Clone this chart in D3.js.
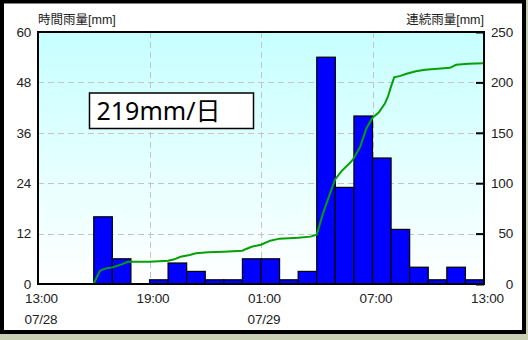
<!DOCTYPE html>
<html>
<head>
<meta charset="utf-8">
<script src="https://cdn.jsdelivr.net/npm/d3@7"></script>
<style>
  body { margin: 0; background: #c9cfb2; }
  svg { display: block; }
</style>
</head>
<body>
<svg width="528" height="340"></svg>
<script>
// hourly rain (bar start hour, mm)
const barHours = ["13:00","14:00","15:00","16:00","17:00","18:00","19:00","20:00","21:00","22:00","23:00","00:00",
                  "01:00","02:00","03:00","04:00","05:00","06:00","07:00","08:00","09:00","10:00","11:00","12:00"];
const barValues = [0,0,0,16,6,0,1,5,3,1,1,6,6,1,3,54,23,40,30,13,4,1,4,1];

// cumulative rain
const cumTimes = ["16:00","16:10","16:20","16:30","16:40","17:00","17:30","17:50","19:00","20:00","20:20","20:40",
                  "21:10","21:30","22:10","23:00","00:00","00:10","00:30","01:00","01:30","02:00","03:00","03:40",
                  "04:00","04:20","04:50","05:00","05:20","05:50","06:00","06:20","06:40","07:00","07:20","07:40",
                  "07:50","08:00","08:10","08:30","08:50","09:20","09:50","10:30","11:10","11:30","12:10","13:00"];
const cumValues = [0,7,13,14.5,15.5,16.5,19.5,22,22,23,24.5,27,
                   28.8,30.5,31.5,32,33,34.5,37,39,43,45,46,47,
                   49,70,96,104,112,121,125,136,154,165,170,179,
                   186,196,205,206.5,208.5,211,212.5,213.5,214.5,217.5,218.5,219];

const hourTicks = ["13:00","19:00","01:00","07:00","13:00"];
const dateTicks = ["07/28","","07/29","",""];
const leftTicks = [0,12,24,36,48,60];
const rightTicks = [0,50,100,150,200,250];
const leftTitle = "時間雨量[mm]";
const rightTitle = "連続雨量[mm]";
const dailyLabel = "219mm/日";

const svg = d3.select("svg");
const plot = {left: 38, right: 484, top: 32, bottom: 284};

// times roll over midnight, so bump the day when the clock goes backwards
function parseSeq(list) {
  let day = 28, prev = -1;
  return list.map(s => {
    const [h, m] = s.split(":").map(Number);
    const v = h * 60 + m;
    if (v < prev) day++;
    prev = v;
    return new Date(2024, 6, day, h, m);
  });
}

const barDates = parseSeq(barHours);
const cumDates = parseSeq(cumTimes);
const tickDates = parseSeq(hourTicks);

const x = d3.scaleTime()
  .domain([tickDates[0], tickDates[tickDates.length - 1]])
  .range([plot.left, plot.right]);
const yL = d3.scaleLinear().domain([0, 60]).range([plot.bottom, plot.top]);
const yR = d3.scaleLinear().domain([0, 250]).range([plot.bottom, plot.top]);

// outer frame
svg.append("rect")
  .attr("x", 2).attr("y", 1.5).attr("width", 522).attr("height", 330.5)
  .attr("fill", "#fff").attr("stroke", "#000").attr("stroke-width", 4);

// plot background gradient
const grad = svg.append("defs").append("linearGradient")
  .attr("id", "bg").attr("x1", 0).attr("y1", 0).attr("x2", 0).attr("y2", 1);
grad.append("stop").attr("offset", "0%").attr("stop-color", "#c6ffff");
grad.append("stop").attr("offset", "100%").attr("stop-color", "#ffffff");

svg.append("rect")
  .attr("x", plot.left).attr("y", plot.top)
  .attr("width", plot.right - plot.left).attr("height", plot.bottom - plot.top)
  .attr("fill", "url(#bg)");

// grid
const grid = svg.append("g").attr("stroke", "#c4c4c4").attr("stroke-dasharray", "6,4").attr("stroke-width", 1);
grid.selectAll(".hg")
  .data(leftTicks.slice(1, -1))
  .join("line")
  .attr("x1", plot.left).attr("x2", plot.right)
  .attr("y1", d => Math.round(yL(d)) + 0.5).attr("y2", d => Math.round(yL(d)) + 0.5);
grid.selectAll(".vg")
  .data(tickDates.slice(1, -1))
  .join("line")
  .attr("x1", d => Math.round(x(d)) + 0.5).attr("x2", d => Math.round(x(d)) + 0.5)
  .attr("y1", plot.top).attr("y2", plot.bottom);

// bars
svg.append("g").selectAll("rect")
  .data(barValues.map((v, i) => ({t: barDates[i], v: v})).filter(d => d.v > 0))
  .join("rect")
  .attr("x", d => x(d.t))
  .attr("width", d => x(d3.timeHour.offset(d.t, 1)) - x(d.t))
  .attr("y", d => yL(d.v))
  .attr("height", d => yL(0) - yL(d.v))
  .attr("fill", "#0000ff")
  .attr("stroke", "#000")
  .attr("stroke-width", 1.2);

// cumulative line
const line = d3.line()
  .x((d, i) => x(cumDates[i]))
  .y(d => yR(d));
svg.append("path")
  .datum(cumValues)
  .attr("d", line)
  .attr("fill", "none")
  .attr("stroke", "#06a006")
  .attr("stroke-width", 2);

// axes
const tickFont = "'Liberation Sans', Arial, sans-serif";

const leftAxis = svg.append("g")
  .attr("transform", `translate(${plot.left},0)`)
  .call(d3.axisLeft(yL).tickValues(leftTicks).tickSize(0).tickPadding(7));
leftAxis.select(".domain").remove();

const rightAxis = svg.append("g")
  .attr("transform", `translate(${plot.right},0)`)
  .call(d3.axisRight(yR).tickValues(rightTicks).tickSizeInner(-8).tickSizeOuter(0));
rightAxis.select(".domain").remove();
rightAxis.selectAll("line").attr("stroke", "#000").attr("stroke-width", 2);
rightAxis.selectAll("text").attr("x", 29).attr("text-anchor", "end");

const bottomAxis = svg.append("g")
  .attr("transform", "translate(3,0)")
  .call(d3.axisBottom(x).tickValues(tickDates).tickSize(0).tickFormat((d, i) => hourTicks[i]));
bottomAxis.select(".domain").remove();
bottomAxis.selectAll("text").attr("y", 303).attr("dy", 0);

svg.append("g").selectAll("text")
  .data(tickDates.map((d, i) => ({t: d, s: dateTicks[i]})).filter(d => d.s))
  .join("text")
  .attr("x", d => x(d.t) + 3)
  .attr("y", 323.5)
  .attr("text-anchor", "middle")
  .text(d => d.s);

svg.selectAll("g text")
  .attr("font-family", tickFont)
  .attr("font-size", 13.5)
  .attr("letter-spacing", -0.2)
  .attr("fill", "#222");

// plot border
svg.append("rect")
  .attr("x", plot.left).attr("y", plot.top)
  .attr("width", plot.right - plot.left).attr("height", plot.bottom - plot.top)
  .attr("fill", "none").attr("stroke", "#000").attr("stroke-width", 2);

// titles
const titleFont = "'Liberation Sans', 'Noto Sans CJK JP', sans-serif";
svg.append("text")
  .attr("x", plot.left).attr("y", 23.5)
  .attr("font-family", titleFont).attr("font-size", 12.5).attr("fill", "#222")
  .text(leftTitle);
svg.append("text")
  .attr("x", plot.right).attr("y", 23.5)
  .attr("text-anchor", "end")
  .attr("font-family", titleFont).attr("font-size", 12.5).attr("fill", "#222")
  .text(rightTitle);

// daily total box
svg.append("rect")
  .attr("x", 89.5).attr("y", 93).attr("width", 164).attr("height", 35.5)
  .attr("fill", "#fff").attr("stroke", "#000").attr("stroke-width", 1.5);
svg.append("text")
  .attr("x", 96.5).attr("y", 119.5)
  .attr("font-family", "'Noto Sans', 'Noto Sans CJK JP', sans-serif")
  .attr("font-size", 25).attr("fill", "#000")
  .text(dailyLabel);
</script>
</body>
</html>
